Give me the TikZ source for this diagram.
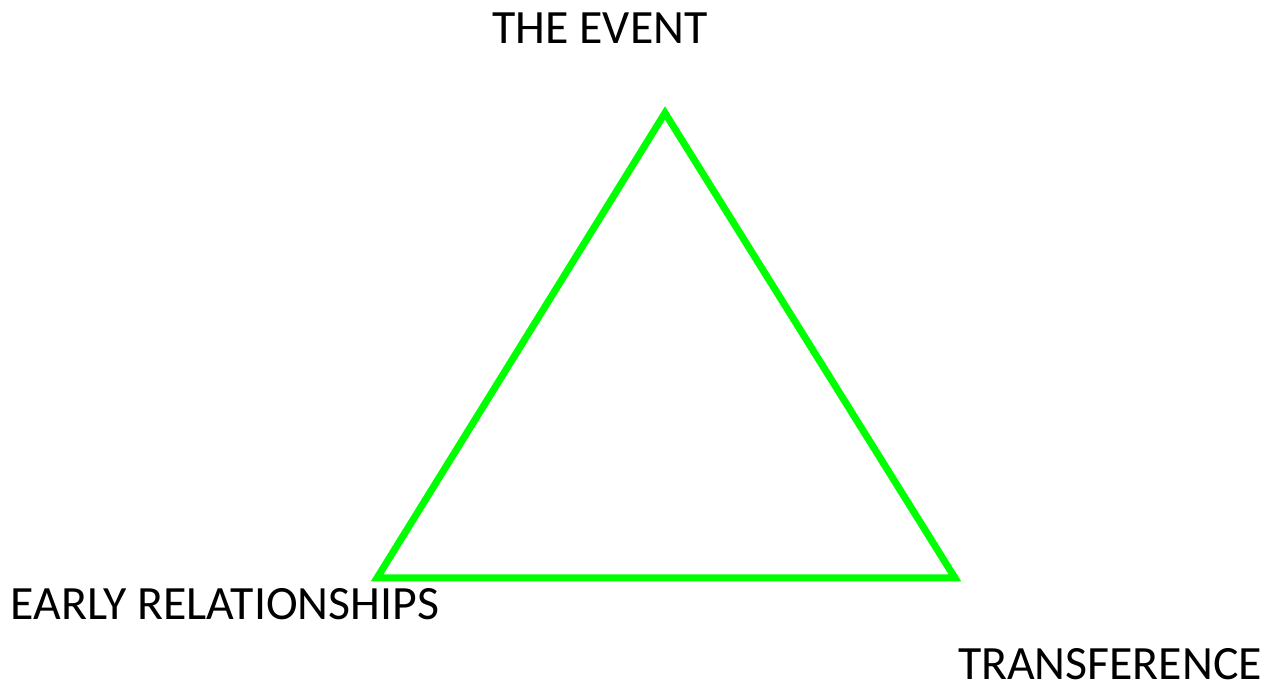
\documentclass[tikz,border=0pt]{standalone}
\usepackage{fontspec}
\setmainfont{Carlito}
\usepackage{xcolor}
\usetikzlibrary{positioning}
\definecolor{triGreen}{HTML}{00FF00}
\tikzset{
    corner/.style={font=\fontsize{13.6}{16}\selectfont, text=black, inner sep=0pt},
    triside/.style={draw=triGreen, line width=2pt, line join=miter}
}
\begin{document}
\begin{tikzpicture}
    \useasboundingbox (0,0) rectangle (12.66,6.85);
    \coordinate (top) at (6.65,5.72);
    \coordinate (left) at (3.77,1.07);
    \coordinate (right) at (9.55,1.07);
    \draw[triside] (top) -- (right) -- (left) -- cycle;
    \node[corner] (event) at (6.00,6.57) {THE EVENT};
    \node[corner] (early) at (2.25,0.81) {EARLY RELATIONSHIPS};
    \node[corner] (transf) at (11.10,0.21) {TRANSFERENCE};
\end{tikzpicture}
\end{document}
